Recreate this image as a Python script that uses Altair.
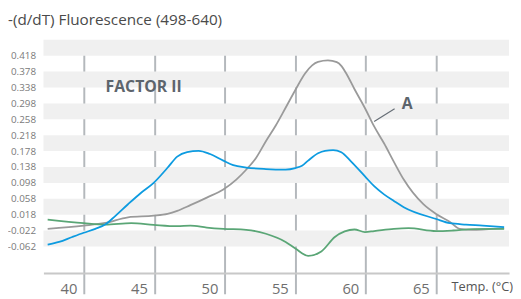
import altair as alt
import pandas as pd

# ---- data ----
blue_t = [37.44, 38.25, 39.18, 40.0, 40.82, 41.52, 42.21, 43.14, 44.07, 44.96, 45.94, 46.63, 47.33,
          48.15, 48.96, 49.9, 50.6, 51.52, 52.92, 54.32, 55.01, 55.48, 55.92, 56.62, 57.11, 57.69,
          58.27, 58.97, 59.95, 60.6, 61.3, 62.0, 62.7, 65.0, 65.98, 67.11, 68.3, 69.82]
blue_v = [-0.0572, -0.0505, -0.0381, -0.0275, -0.0176, -0.0069, 0.0139, 0.0443, 0.0733, 0.0981,
          0.136, 0.164, 0.1756, 0.1788, 0.1707, 0.1541, 0.1427, 0.1367, 0.1328, 0.1315, 0.1353,
          0.141, 0.1541, 0.1724, 0.1788, 0.1806, 0.1749, 0.1516, 0.1144, 0.0897, 0.0691, 0.0525,
          0.0369, 0.0072, -0.0035, -0.0069, -0.0094, -0.0134]

gray_t = [37.44, 40.0, 41.52, 43.14, 44.96, 45.94, 46.63, 47.56, 48.73, 49.9, 50.82, 51.52, 52.22,
          52.92, 53.62, 54.32, 55.01, 55.71, 56.2, 56.62, 57.32, 57.95, 58.3, 58.65, 59.2, 59.97,
          60.6, 61.3, 62.0, 62.7, 64.09, 65.0, 65.98, 66.68, 67.58, 68.5, 69.82]
gray_v = [-0.0176, -0.0094, -0.0027, 0.0114, 0.0154, 0.0203, 0.0277, 0.0419, 0.061, 0.0815, 0.1063,
          0.131, 0.1608, 0.2029, 0.2425, 0.2871, 0.3317, 0.3738, 0.3936, 0.4023, 0.406, 0.4018,
          0.3911, 0.3713, 0.3342, 0.2846, 0.24, 0.1976, 0.1509, 0.1063, 0.0443, 0.0196, -0.0003,
          -0.0176, -0.0201, -0.0189, -0.0164]

green_t = [37.44, 40.0, 41.52, 43.37, 44.96, 46.63, 47.56, 48.73, 49.9, 51.52, 52.92, 54.32, 55.01,
           55.92, 56.85, 57.81, 58.51, 59.2, 59.95, 60.6, 62.0, 63.04, 65.0, 66.19, 67.58, 69.82]
green_v = [0.0054, -0.0035, -0.0069, -0.0035, -0.0077, -0.0109, -0.0094, -0.0144, -0.0176, -0.0201,
           -0.03, -0.0505, -0.0671, -0.0857, -0.0746, -0.0381, -0.0242, -0.0193, -0.0257, -0.0233,
           -0.0176, -0.0159, -0.0233, -0.0218, -0.0183, -0.0176]

y_ticks = [0.418, 0.378, 0.338, 0.298, 0.258, 0.218, 0.178, 0.138, 0.098, 0.058, 0.018, -0.022, -0.062]
x_ticks = [40, 45, 50, 55, 60, 65]
series_names = ["A", "B", "C"]
series_colors = ["#9a9a9a", "#5aa676", "#0d9be0"]

ann_text = ["FACTOR II", "A"]
ann_t = [41.55, 62.55]
ann_v = [0.339, 0.297]
leader_t = [60.6, 62.05]
leader_v = [0.2524, 0.2846]

X_DOMAIN = [37.14, 70.17]
Y_DOMAIN = [-0.129, 0.458]
W, H = 473, 237
FONT = "Open Sans"

rows = []
for name, ts, vs in zip(series_names, [gray_t, green_t, blue_t], [gray_v, green_v, blue_v]):
    for t, v in zip(ts, vs):
        rows.append({"series": name, "t": t, "v": v})
df = pd.DataFrame(rows)

step = y_ticks[0] - y_ticks[1]
bands = pd.DataFrame({"y1": [y_ticks[i] for i in range(0, len(y_ticks), 2)],
                      "y2": [y_ticks[i] + step for i in range(0, len(y_ticks), 2)]})

xs = alt.Scale(domain=X_DOMAIN, nice=False, zero=False)
ys = alt.Scale(domain=Y_DOMAIN, nice=False, zero=False)

y_axis = alt.Axis(
    values=y_ticks, domain=False, ticks=False, grid=False, title=None, labelOverlap=False,
    labelExpr="replace(format(datum.value, '.3f'), '\u2212', '-')",
    labelFontSize=10, labelColor="#7a7a7a", labelFont=FONT, labelPadding=8)

band_layer = alt.Chart(bands).mark_rect(color="#f0f0f0").encode(
    x=alt.value(0), x2=alt.value(W),
    y=alt.Y("y1:Q", scale=ys, axis=y_axis),
    y2="y2:Q",
)

lines = alt.Chart(df).mark_line(interpolate="monotone", strokeWidth=1.8).encode(
    x=alt.X("t:Q", scale=xs, axis=alt.Axis(
        values=x_ticks, grid=True, gridColor="#b4b8bc", gridWidth=2,
        tickColor="#b4b8bc", tickWidth=2, tickSize=21,
        domain=True, domainColor="#c8c8c8", domainWidth=2,
        labelAlign="right", labelBaseline="middle", labelOffset=-7, labelPadding=-5,
        labelFontSize=15, labelColor="#6f6f6f", labelFont=FONT,
        title="Temp. (°C)", titleX=414, titleY=14, titleAlign="left", titleBaseline="middle",
        titleFontSize=13, titleFontWeight="normal", titleColor="#555555", titleFont=FONT)),
    y=alt.Y("v:Q", scale=ys, axis=y_axis),
    color=alt.Color("series:N", scale=alt.Scale(domain=series_names, range=series_colors), legend=None),
    order=alt.Order("t:Q"),
)

ann_df = pd.DataFrame({"text": ann_text, "t": ann_t, "v": ann_v})
ann = alt.Chart(ann_df).mark_text(align="left", baseline="middle", font=FONT, fontWeight="bold",
                                  fontSize=16, color="#5c646c").encode(
    x=alt.X("t:Q", scale=xs), y=alt.Y("v:Q", scale=ys, axis=y_axis), text="text:N")

leader_df = pd.DataFrame({"t": leader_t, "v": leader_v})
leader = alt.Chart(leader_df).mark_line(color="#666e76", strokeWidth=1.2).encode(
    x=alt.X("t:Q", scale=xs), y=alt.Y("v:Q", scale=ys, axis=y_axis))

chart = alt.layer(band_layer, ann, lines, leader).properties(
    width=W, height=H,
    title=alt.TitleParams("-(d/dT) Fluorescence (498-640)", anchor="start", frame="group", dx=-36,
                          offset=12, fontSize=15.5, fontWeight="normal", color="#4a4a4a", font=FONT),
    autosize=alt.AutoSizeParams(type="none"),
    padding={"left": 36, "top": 30, "right": 4, "bottom": 24},
).configure_view(stroke=None).configure_axisY(labelOverlap=False)

chart.save("out.html", embed_options={"renderer": "svg", "actions": False})
